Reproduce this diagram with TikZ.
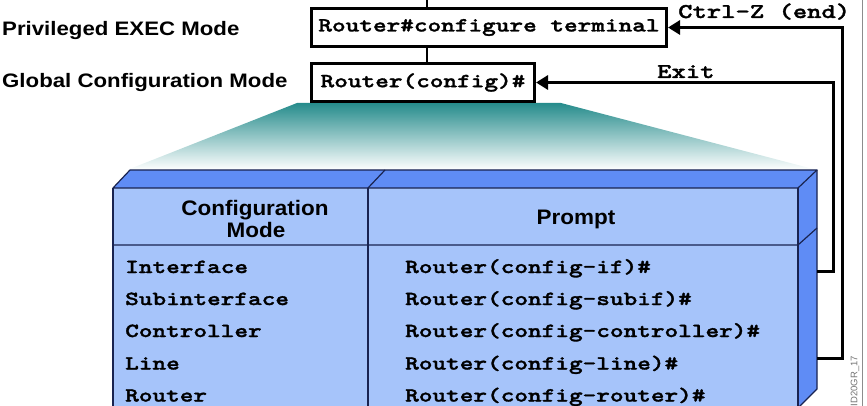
\documentclass[tikz,border=0pt]{standalone}
\usepackage{fontspec}
\usetikzlibrary{arrows.meta,calc}
\newfontfamily\lblfont[FakeStretch=1.14]{Liberation Sans}
\newfontfamily\hdrfont[FakeStretch=1.07]{Liberation Sans}
\newfontfamily\cmono[FakeStretch=1.30,FakeBold=1.6]{lmmonolt10-bold.otf}
\newfontfamily\idfont{Liberation Sans}
\definecolor{faceside}{RGB}{95,140,245}
\definecolor{facefront}{RGB}{166,196,250}
\definecolor{edgecol}{RGB}{25,35,80}
\definecolor{tealtop}{RGB}{38,140,140}
\tikzset{
  cmdbox/.style={draw=black, line width=3pt, fill=white, inner sep=0pt,
    font=\cmono\fontsize{20}{24}\selectfont},
  modelabel/.style={anchor=base west, inner sep=0pt,
    font=\lblfont\bfseries\fontsize{19.5}{22}\selectfont},
  hdrtext/.style={anchor=base, inner sep=0pt,
    font=\hdrfont\bfseries\fontsize{21}{24}\selectfont},
  rowtext/.style={anchor=base west, inner sep=0pt,
    font=\cmono\fontsize{20}{24}\selectfont},
  keylabel/.style={anchor=base west, inner sep=0pt,
    font=\cmono\fontsize{21}{24}\selectfont},
  loopline/.style={line width=3pt, -{Triangle[length=12pt,width=14pt]}},
  joinline/.style={line width=2.5pt},
  boxedge/.style={draw=edgecol, line width=1.2pt, line join=round}
}
\begin{document}
\begin{tikzpicture}[x=1pt,y=-1pt]
\useasboundingbox (0,0) rectangle (867,406);
% gradient fan
\shade[top color=tealtop, bottom color=white] (297,103) -- (561,103) -- (817,170) -- (127,170) -- cycle;
% 3D table box
\fill[facefront] (113,188) rectangle (798,410);
\fill[faceside] (113,188) -- (130,170) -- (817,170) -- (798,188) -- cycle;
\fill[faceside] (798,188) -- (817,170) -- (817,389) -- (798,408) -- cycle;
\draw[boxedge] (113,188) -- (130,170) -- (817,170) -- (798,188) -- cycle;
\draw[boxedge] (817,170) -- (817,389) -- (798,408);
\draw[boxedge] (798,188) -- (798,410);
\draw[boxedge, line width=1.8pt] (113,188) -- (113,410);
\draw[boxedge] (368,188) -- (368,410);
\draw[boxedge] (368,188) -- (385,170);
\draw[boxedge] (113,245) -- (798,245) -- (817,228);
% header
\node[hdrtext] (h1) at (255,215) {Configuration};
\node[hdrtext] (h2) at (256,237.5) {Mode};
\node[hdrtext] (h3) at (576,224.5) {Prompt};
% rows
\node[rowtext] (m1) at (125,273) {Interface};
\node[rowtext] (m2) at (125,305) {Subinterface};
\node[rowtext] (m3) at (125,337) {Controller};
\node[rowtext] (m4) at (125,369.5) {Line};
\node[rowtext] (m5) at (125,401.5) {Router};
\node[rowtext] (p1) at (405,273) {Router(config-if)\#};
\node[rowtext] (p2) at (405,305) {Router(config-subif)\#};
\node[rowtext] (p3) at (405,337) {Router(config-controller)\#};
\node[rowtext] (p4) at (405,369.5) {Router(config-line)\#};
\node[rowtext] (p5) at (405,401.5) {Router(config-router)\#};
% command boxes
\node[cmdbox, minimum width=355pt, minimum height=38pt] (box1) at (489,27.5) {Router\#configure terminal};
\node[cmdbox, minimum width=223pt, minimum height=38pt] (box2) at (423,82.5) {Router(config)\#};
% mode labels
\node[modelabel] (l1) at (2,36) {Privileged EXEC Mode};
\node[modelabel] (l2) at (2,87.5) {Global Configuration Mode};
% vertical joins
\coordinate (tp) at (427,0);
\draw[joinline] (tp) -- (tp |- box1.north);
\draw[joinline] (box1.south -| tp) -- (box2.north -| tp);
% return loops
\coordinate (s1) at (817,358);
\coordinate (s2) at (817,271);
\draw[loopline] (s1) -- ++(25,0) |- (box1.east);
\draw[loopline] (s2) -- ++(16,0) |- (box2.east);
\node[keylabel] (k1) at (678,18) {Ctrl-Z (end)};
\node[keylabel] (k2) at (657,78) {Exit};
% frame edge and id
\coordinate (fa) at (862.5,0);
\coordinate (fb) at (862.5,406);
\draw[black!45, line width=1.5pt] (fa) -- (fb);
\node[rotate=90, inner sep=0pt, text=black!55, font=\idfont\fontsize{9.5}{11}\selectfont] (idt) at (855,381) {ID20GR\_17};
\end{tikzpicture}
\end{document}
